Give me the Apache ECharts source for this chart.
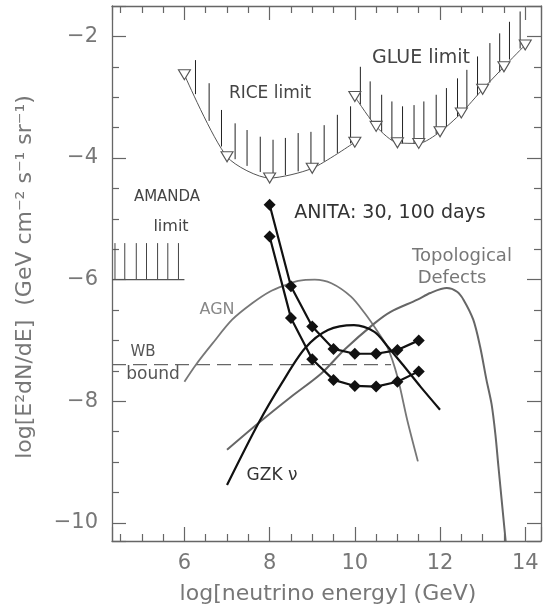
<!DOCTYPE html>
<html><head><meta charset="utf-8">
<script src="https://cdn.jsdelivr.net/npm/echarts@6/dist/echarts.min.js"></script>
<style>html,body{margin:0;padding:0;background:#fff}#c{width:544px;height:608px}</style>
</head><body><div id="c"></div>
<script>
// ---- tick labels ----
const xTickValues = [6, 8, 10, 12, 14];
const yTickValues = [-2, -4, -6, -8, -10];

// ---- RICE limit ----
const riceX = [6, 7, 8, 9, 10];
const riceY = [-2.63, -3.98, -4.33, -4.17, -3.74];
const riceHatchX = [6.26, 6.58, 6.87, 7.19, 7.47, 7.78, 8.08, 8.37, 8.67, 8.97, 9.28, 9.59, 9.90];
const riceHatchLow = [-2.95, -3.39, -3.81, -4.02, -4.13, -4.23, -4.31, -4.28, -4.22, -4.17, -4.06, -3.92, -3.76];
const riceHatchHigh = [-2.39, -2.77, -3.21, -3.43, -3.54, -3.65, -3.70, -3.67, -3.59, -3.57, -3.46, -3.29, -3.15];

// ---- GLUE limit ----
const glueX = [10, 10.5, 11, 11.5, 12, 12.5, 13, 13.5, 14];
const glueY = [-2.99, -3.48, -3.75, -3.76, -3.57, -3.26, -2.87, -2.50, -2.14];
const glueHatchX = [10.13, 10.36, 10.63, 10.87, 11.12, 11.39, 11.62, 11.91, 12.15, 12.41, 12.63, 12.88, 13.17, 13.40, 13.63, 13.88];
const glueHatchLow = [-3.12, -3.36, -3.57, -3.70, -3.76, -3.77, -3.73, -3.61, -3.48, -3.32, -3.18, -2.97, -2.76, -2.59, -2.38, -2.20];
const glueHatchHigh = [-2.50, -2.74, -2.96, -3.07, -3.15, -3.13, -3.07, -2.96, -2.85, -2.69, -2.55, -2.33, -2.11, -1.95, -1.76, -1.59];

// ---- AMANDA limit ----
const amandaX = [4.3, 6.0];
const amandaY = [-6.0, -6.0];
const amandaHatchX = [4.37, 4.60, 4.87, 5.11, 5.37, 5.61, 5.86];
const amandaHatchLow = [-6.0, -6.0, -6.0, -6.0, -6.0, -6.0, -6.0];
const amandaHatchHigh = [-5.4, -5.4, -5.4, -5.4, -5.4, -5.4, -5.4];

// ---- WB bound ----
const wbX = [4.3, 10.85];
const wbY = [-7.4, -7.4];

// ---- AGN ----
const agnX = [6.0, 6.27, 6.66, 7.12, 7.59, 8.0, 8.37, 8.67, 9.06, 9.45, 9.91, 10.23, 10.53, 10.77, 11.0, 11.23, 11.48];
const agnY = [-7.68, -7.40, -7.05, -6.66, -6.39, -6.20, -6.09, -6.02, -6.00, -6.06, -6.28, -6.55, -6.85, -7.12, -7.60, -8.31, -8.99];

// ---- Topological Defects ----
const tdX = [7.0, 7.74, 8.52, 9.22, 9.76, 10.46, 10.84, 11.47, 11.77, 12.16, 12.4, 12.55, 12.78, 12.94, 13.09, 13.21, 13.3, 13.37, 13.54];
const tdY = [-8.80, -8.36, -7.92, -7.54, -7.15, -6.72, -6.53, -6.33, -6.22, -6.14, -6.20, -6.33, -6.66, -7.10, -7.65, -8.05, -8.55, -9.07, -10.30];

// ---- GZK neutrinos ----
const gzkX = [7.0, 7.74, 8.29, 8.83, 9.37, 9.98, 10.46, 10.77, 11.16, 11.54, 12.0];
const gzkY = [-9.38, -8.36, -7.70, -7.13, -6.83, -6.75, -6.86, -7.10, -7.43, -7.76, -8.14];

// ---- ANITA 30 / 100 days ----
const anitaX = [8, 8.5, 9, 9.5, 10, 10.5, 11, 11.5];
const anita30 = [-4.77, -6.11, -6.77, -7.14, -7.22, -7.22, -7.16, -7.00];
const anita100 = [-5.29, -6.63, -7.31, -7.65, -7.75, -7.76, -7.68, -7.51];

const FONT = 'DejaVu Sans';
const AX = '#666';
const zip = (xs, ys) => xs.map((x, i) => [x, ys[i]]);

function hatch(xs, lows, highs, color) {
  return {
    type: 'custom', silent: true, clip: true, z: 2,
    data: xs.map((x, i) => [x, lows[i], highs[i]]),
    encode: { x: 0, y: [1, 2] },
    renderItem: (params, api) => {
      const p0 = api.coord([api.value(0), api.value(1)]);
      const p1 = api.coord([api.value(0), api.value(2)]);
      return { type: 'line', shape: { x1: p0[0], y1: p0[1], x2: p1[0], y2: p1[1] },
               style: { stroke: color, lineWidth: 1 } };
    }
  };
}
function curve(xs, ys, color, width, extra) {
  return Object.assign({
    type: 'line', data: zip(xs, ys), symbol: 'none', smooth: 0.3,
    lineStyle: { color: color, width: width }, z: 3
  }, extra || {});
}
function limitLine(xs, ys) {
  return {
    type: 'line', data: zip(xs, ys), smooth: 0.25,
    symbol: 'triangle', symbolRotate: 180, symbolSize: [12, 10],
    itemStyle: { color: '#fff', borderColor: '#555', borderWidth: 1.1 },
    lineStyle: { color: '#555', width: 1 }, z: 4
  };
}
function anita(xs, ys) {
  return {
    type: 'line', data: zip(xs, ys), symbol: 'diamond', symbolSize: 12,
    itemStyle: { color: '#111' }, lineStyle: { color: '#111', width: 2.2 }, z: 5
  };
}

const tickStyle = { color: AX, width: 1.2 };
function xAx(pos, labels) {
  return {
    type: 'value', position: pos, min: 4.3, max: 14.37, splitNumber: 5,
    axisLine: { show: true, onZero: false, lineStyle: { color: AX, width: 1.3 } },
    axisTick: { show: true, inside: true, length: 14, lineStyle: tickStyle },
    minorTick: { show: true, splitNumber: 4, length: 7, lineStyle: tickStyle },
    splitLine: { show: false }, minorSplitLine: { show: false },
    axisLabel: {
      show: labels, margin: 12, fontSize: 21, color: '#777', fontFamily: FONT,
      formatter: v => xTickValues.indexOf(Math.round(v * 100) / 100) >= 0 ? String(v) : ''
    }
  };
}
function yAx(pos, labels) {
  return {
    type: 'value', position: pos, min: -10.3, max: -1.5, splitNumber: 4,
    axisLine: { show: true, onZero: false, lineStyle: { color: AX, width: 1.3 } },
    axisTick: { show: true, inside: true, length: 14, lineStyle: tickStyle },
    minorTick: { show: true, splitNumber: 4, length: 7, lineStyle: tickStyle },
    splitLine: { show: false }, minorSplitLine: { show: false },
    axisLabel: {
      show: labels, margin: 14, fontSize: 21, color: '#777', fontFamily: FONT,
      formatter: v => yTickValues.indexOf(Math.round(v * 100) / 100) >= 0 ? '\u2212' + Math.abs(v) : ''
    }
  };
}

function txt(x, y, s, size, color, extra) {
  return Object.assign({
    type: 'text', x: x, y: y, z: 10,
    style: { text: s, fill: color, font: size + 'px "' + FONT + '"', align: 'center', verticalAlign: 'middle' }
  }, extra || {});
}

const chart = echarts.init(document.getElementById('c'), null, { renderer: 'canvas' });
chart.setOption({
  animation: false,
  backgroundColor: '#fff',
  grid: { left: 112, top: 6, width: 433, height: 535 },
  xAxis: [xAx('bottom', true), xAx('top', false)],
  yAxis: [yAx('left', true), yAx('right', false)],
  series: [
    hatch(riceHatchX, riceHatchLow, riceHatchHigh, '#222'),
    limitLine(riceX, riceY),
    hatch(glueHatchX, glueHatchLow, glueHatchHigh, '#222'),
    limitLine(glueX, glueY),
    hatch(amandaHatchX, amandaHatchLow, amandaHatchHigh, '#444'),
    { type: 'line', data: zip(amandaX, amandaY), symbol: 'none', lineStyle: { color: '#555', width: 1.3 } },
    { type: 'line', data: zip(wbX, wbY), symbol: 'none', lineStyle: { color: '#666', width: 1.3, type: [14, 7] } },
    curve(agnX, agnY, '#777', 1.8),
    curve(tdX, tdY, '#666', 2),
    curve(gzkX, gzkY, '#111', 2.2),
    anita(anitaX, anita30),
    anita(anitaX, anita100)
  ],
  graphic: [
    txt(270, 94, 'RICE limit', 17, '#444'),
    txt(421, 58, 'GLUE limit', 19, '#444'),
    txt(167, 197, 'AMANDA', 15, '#444'),
    txt(171, 227, 'limit', 16, '#444'),
    txt(390, 213, 'ANITA: 30, 100 days', 19, '#333'),
    txt(462, 256, 'Topological', 18, '#777'),
    txt(452, 278, 'Defects', 18, '#777'),
    txt(217, 310, 'AGN', 16, '#888'),
    txt(143, 352, 'WB', 15, '#555'),
    txt(153, 375, 'bound', 17, '#555'),
    { type: 'text', x: 272, y: 476, z: 10, style: { text: 'GZK \u03BD', fill: '#333', font: '17px "' + FONT + '"', align: 'center', verticalAlign: 'middle' } },
    txt(328, 594, 'log[neutrino energy] (GeV)', 22, '#777'),
    txt(25, 277, 'log[E\u00B2dN/dE]  (GeV cm\u207B\u00B2 s\u207B\u00B9 sr\u207B\u00B9)', 22, '#777', { rotation: Math.PI / 2 })
  ]
});
</script></body></html>
